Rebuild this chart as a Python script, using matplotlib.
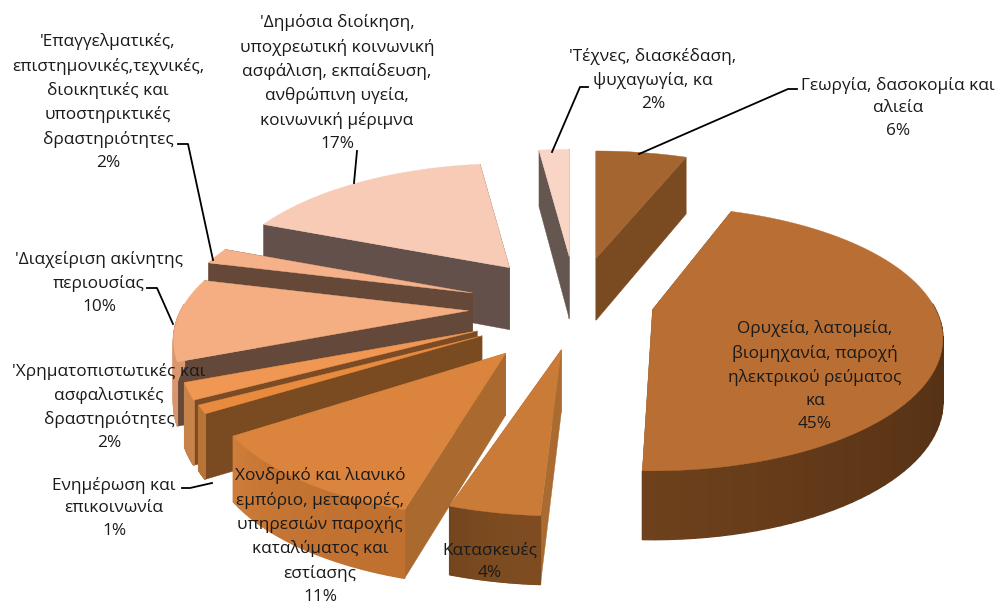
import numpy as np
import matplotlib
matplotlib.use('Agg')
import matplotlib.pyplot as plt

labels = ['Γεωργία, δασοκομία και\nαλιεία',
          'Ορυχεία, λατομεία,\nβιομηχανία, παροχή\nηλεκτρικού ρεύματος\nκα',
          'Κατασκευές',
          'Χονδρικό και λιανικό\nεμπόριο, μεταφορές,\nυπηρεσιών παροχής\nκαταλύματος και\nεστίασης',
          'Ενημέρωση και\nεπικοινωνία',
          "'Χρηματοπιστωτικές και\nασφαλιστικές\nδραστηριότητες",
          "'Διαχείριση ακίνητης\nπεριουσίας",
          "'Επαγγελματικές,\nεπιστημονικές,τεχνικές,\nδιοικητικές και\nυποστηρικτικές\nδραστηριότητες",
          "'Δημόσια διοίκηση,\nυποχρεωτική κοινωνική\nασφάλιση, εκπαίδευση,\nανθρώπινη υγεία,\nκοινωνική μέριμνα",
          "'Τέχνες, διασκέδαση,\nψυχαγωγία, κα"]
values = [6, 45, 4, 11, 1, 2, 10, 2, 17, 2]

top_colors = ['#A46530', '#B96F33', '#CB7B38', '#DB843E', '#E98B3F',
              '#F09753', '#F5AE82', '#F5B18A', '#F7CBB5', '#F9D5C6']
side_colors = ['#7A4A20', '#7A4A20', '#A96B30', '#A9692F', '#7A4A20',
               '#7B4B25', '#64483A', '#664838', '#64504A', '#665650']
rim_start = ['#7A4A20', '#4A2A12', '#7E4C20', '#C0702F', '#B87436',
             '#C8834A', '#D8946A', '#D8946A', '#B09080', '#B09080']
rim_end = ['#7A4A20', '#6E411C', '#74461E', '#CE7D3A', '#B87436',
           '#C8834A', '#E2A078', '#D8946A', '#B09080', '#B09080']

# picture position and projection of the pie plane
cx, cy = 570, 305
rx, ry = 295, 131
persp = 0.22
explode = 0.33
# small per slice corrections, the original renderer is not a clean projection
nudge = [(9, -7), (-14, -5), (11, -1), (-1, 12), (-1, 8),
         (-2, 7), (-4, 3), (-7, 1), (-4, -5), (5, -8)]
radius = [1, 0.96, 0.99, 0.98, 0.98, 0.98, 0.975, 0.975, 0.97, 1]
turn = [0, -2, -0.4, -2, 0, 0, 0, 0, 0, 0]
label_pos = [(898, 108), (815, 376), (490, 562), (320, 536), (114, 508),
             (109, 407), (99, 283), (108, 102), (337, 83), (653, 80)]
leaders = [[(797, 89), (788, 89), (639, 154)],
           [(588, 87), (580, 87), (552, 152)],
           [(357, 151), (354, 183)],
           [(178, 144), (188, 144), (213, 260)],
           [(147, 288), (157, 288), (173, 324)],
           [(182, 488), (190, 488), (212, 483)]]


def project(x, y):
    d = 1 + persp * y
    return rx * x / d, -ry * y / d


def depth(y):
    return 62 / (1 + 0.1 * y)


fig = plt.figure(figsize=(10.02, 6.08), dpi=100)
ax = fig.add_axes([0, 0, 1, 1])
ax.set_xlim(0, 1002)
ax.set_ylim(608, 0)
ax.axis('off')

fracs = np.array(values) / np.sum(values)
starts = np.concatenate([[0], np.cumsum(fracs)[:-1]]) * 2 * np.pi
ends = np.cumsum(fracs) * 2 * np.pi

# back slices first, the front ones paint over their walls
order = [9, 0, 8, 7, 6, 5, 4, 3, 2, 1]
for i in order:
    mid = (starts[i] + ends[i]) / 2
    ox, oy = project(explode * np.sin(mid), explode * np.cos(mid))
    ax0 = cx + ox + nudge[i][0]
    ay0 = cy + oy + nudge[i][1]

    th = np.linspace(starts[i], ends[i], 80) + np.radians(turn[i])
    px, py = project(np.sin(th), np.cos(th))
    px = px * radius[i] + ax0
    py = py * radius[i] + ay0
    dz = depth(np.cos(th))
    d0 = depth(0)

    # radial walls
    for k in [0, -1]:
        ax.fill([ax0, px[k], px[k], ax0],
                [ay0, py[k], py[k] + dz[k], ay0 + d0],
                color=side_colors[i], lw=0.3)
    # outer wall, as thin strips for the shading, only the part facing us
    c0 = np.array(matplotlib.colors.to_rgb(rim_start[i]))
    c1 = np.array(matplotlib.colors.to_rgb(rim_end[i]))
    for k in range(len(th) - 1):
        if np.cos(th[k]) > 0.05:
            continue
        c = c0 + (c1 - c0) * (k / (len(th) - 2)) ** 2
        ax.fill([px[k], px[k + 1], px[k + 1], px[k]],
                [py[k], py[k + 1], py[k + 1] + dz[k + 1], py[k] + dz[k]],
                facecolor=c, edgecolor=c, lw=1.0)
    # top
    ax.fill(np.concatenate([[ax0], px]), np.concatenate([[ay0], py]),
            color=top_colors[i], lw=0.3)

for pts in leaders:
    xs, ys = zip(*pts)
    ax.plot(xs, ys, color='black', lw=1.3, zorder=3)

for i in range(len(values)):
    ax.text(label_pos[i][0], label_pos[i][1], labels[i] + '\n%d%%' % values[i],
            ha='center', va='center', multialignment='center',
            family='Open Sans', fontsize=12.4, linespacing=1.57,
            color='#1a1a1a', zorder=4)

fig.savefig('out.png', dpi=100)
